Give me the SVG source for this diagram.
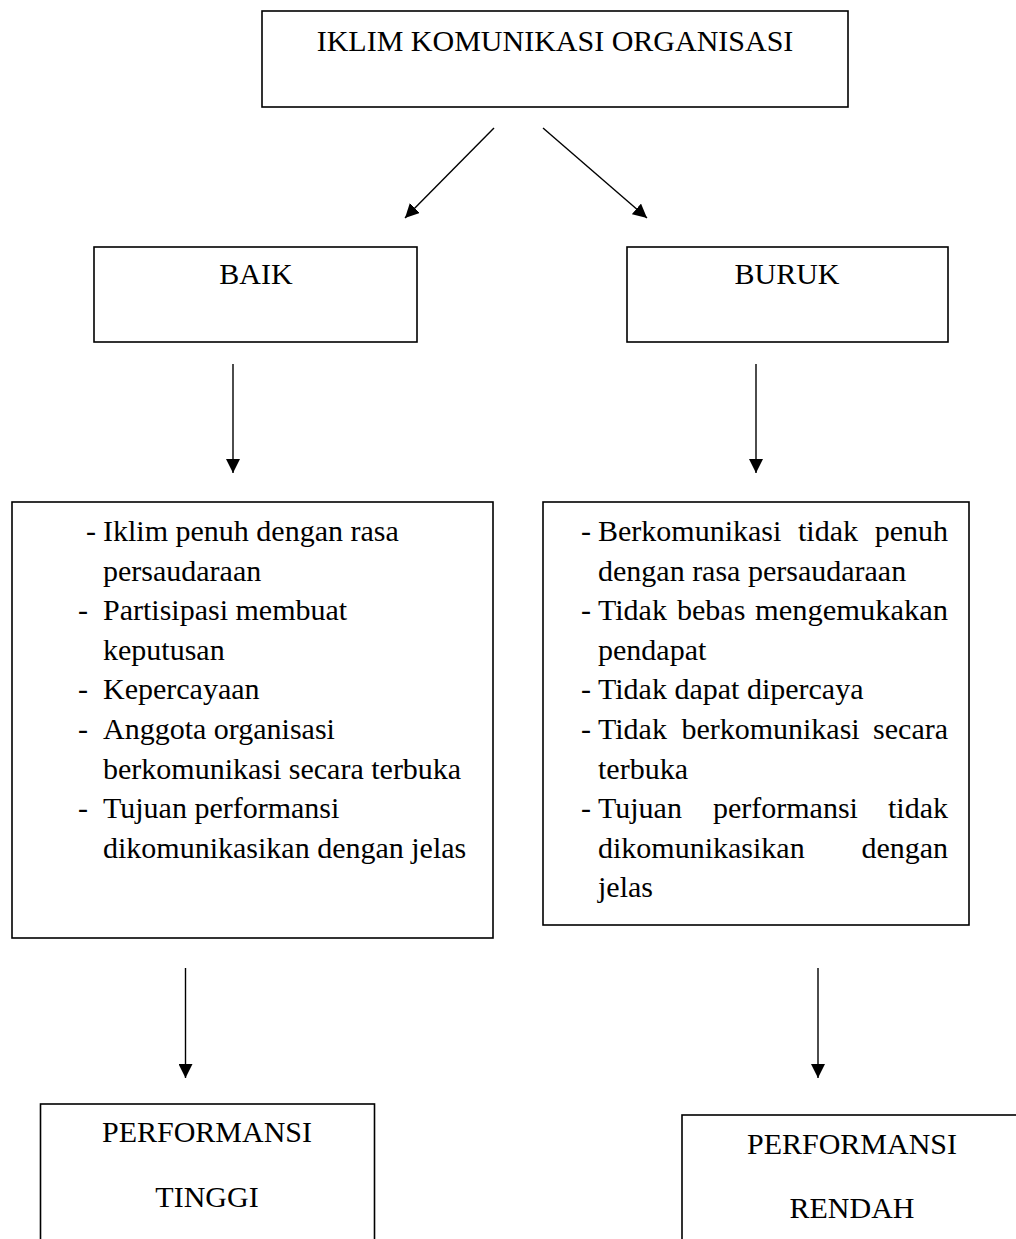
<svg xmlns="http://www.w3.org/2000/svg" width="1016" height="1239" viewBox="0 0 1016 1239">
<style>
.box{fill:#fff;stroke:#000;stroke-width:1.6}
.t{font-family:"Liberation Serif","Times New Roman",serif;font-size:30px;fill:#000}
.c{text-anchor:middle}
.e{text-anchor:end}
.conn{stroke:#000;stroke-width:1.4;fill:none;marker-end:url(#ah)}
</style>
<defs>
<marker id="ah" markerUnits="userSpaceOnUse" markerWidth="14" markerHeight="14" refX="14" refY="7" orient="auto" viewBox="0 0 14 14">
<path d="M0,0 L14,7 L0,14 z" fill="#000"/>
</marker>
</defs>
<rect width="1016" height="1239" fill="#fff"/>
<g id="connectors">
<line class="conn" x1="494" y1="128" x2="405" y2="218"/>
<line class="conn" x1="543" y1="128" x2="647" y2="218"/>
<line class="conn" x1="233" y1="364" x2="233" y2="473"/>
<line class="conn" x1="756" y1="364" x2="756" y2="473"/>
<line class="conn" x1="185.5" y1="968" x2="185.5" y2="1078"/>
<line class="conn" x1="818" y1="968" x2="818" y2="1078"/>
</g>
<g id="iklim">
<rect class="box" x="262" y="11" width="586" height="96"/>
<text class="t c" x="555" y="51">IKLIM KOMUNIKASI ORGANISASI</text>
</g>
<g id="baik">
<rect class="box" x="94" y="247" width="323" height="95"/>
<text class="t c" x="256" y="284">BAIK</text>
</g>
<g id="buruk">
<rect class="box" x="627" y="247" width="321" height="95"/>
<text class="t c" x="787" y="284">BURUK</text>
</g>
<g id="ciri-baik">
<rect class="box" x="12" y="502" width="481" height="436"/>
<text class="t"><tspan x="86" y="541">-</tspan><tspan x="103" y="541">Iklim penuh dengan rasa</tspan></text>
<text class="t" x="103" y="580.6">persaudaraan</text>
<text class="t"><tspan x="78" y="620.2">-</tspan><tspan x="103" y="620.2">Partisipasi membuat</tspan></text>
<text class="t" x="103" y="659.8">keputusan</text>
<text class="t"><tspan x="78" y="699.4">-</tspan><tspan x="103" y="699.4">Kepercayaan</tspan></text>
<text class="t"><tspan x="78" y="739">-</tspan><tspan x="103" y="739">Anggota organisasi</tspan></text>
<text class="t" x="103" y="778.6">berkomunikasi secara terbuka</text>
<text class="t"><tspan x="78" y="818.2">-</tspan><tspan x="103" y="818.2">Tujuan performansi</tspan></text>
<text class="t" x="103" y="857.8">dikomunikasikan dengan jelas</text>
</g>
<g id="ciri-buruk">
<rect class="box" x="543" y="502" width="426" height="423"/>
<text class="t"><tspan x="581" y="541">-</tspan><tspan x="598" y="541">Berkomunikasi</tspan><tspan x="798" y="541">tidak</tspan><tspan x="874.7" y="541">penuh</tspan></text>
<text class="t" x="598" y="580.6">dengan rasa persaudaraan</text>
<text class="t"><tspan x="581" y="620.2">-</tspan><tspan x="598" y="620.2">Tidak</tspan><tspan x="677" y="620.2">bebas</tspan></text>
<text class="t" x="755" y="620.2" textLength="193" lengthAdjust="spacingAndGlyphs">mengemukakan</text>
<text class="t" x="598" y="659.8">pendapat</text>
<text class="t"><tspan x="581" y="699.4">-</tspan><tspan x="598" y="699.4">Tidak dapat dipercaya</tspan></text>
<text class="t"><tspan x="581" y="739">-</tspan><tspan x="598" y="739">Tidak</tspan><tspan x="681.4" y="739">berkomunikasi</tspan><tspan x="873.1" y="739">secara</tspan></text>
<text class="t" x="598" y="778.6">terbuka</text>
<text class="t"><tspan x="581" y="818.2">-</tspan><tspan x="598" y="818.2">Tujuan</tspan><tspan x="713" y="818.2">performansi</tspan><tspan x="888" y="818.2">tidak</tspan></text>
<text class="t"><tspan x="598" y="857.8">dikomunikasikan</tspan><tspan x="861.4" y="857.8">dengan</tspan></text>
<text class="t" x="598" y="897.4">jelas</text>
</g>
<g id="tinggi">
<rect class="box" x="40.5" y="1104" width="334" height="150"/>
<text class="t c" x="207" y="1142">PERFORMANSI</text>
<text class="t c" x="207" y="1207">TINGGI</text>
</g>
<g id="rendah">
<rect class="box" x="682" y="1115" width="360" height="150"/>
<text class="t c" x="852" y="1154">PERFORMANSI</text>
<text class="t c" x="852" y="1218">RENDAH</text>
</g>
</svg>
